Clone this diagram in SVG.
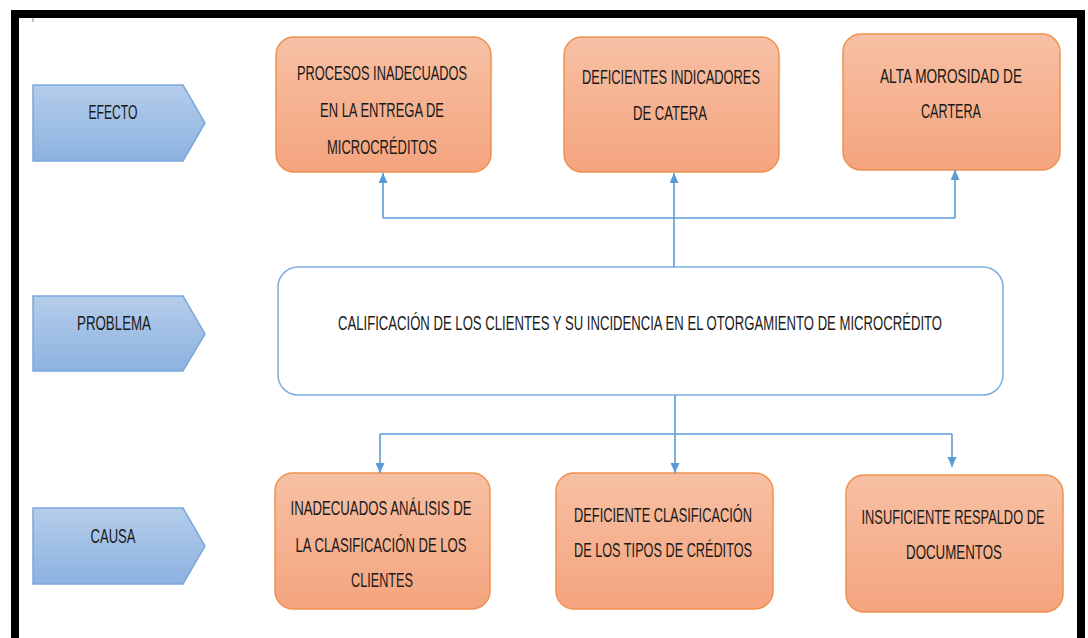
<svg xmlns="http://www.w3.org/2000/svg" width="1088" height="638" viewBox="0 0 1088 638">
<defs>
<linearGradient id="gb" x1="0" y1="0" x2="0" y2="1"><stop offset="0" stop-color="#b5cdea"/><stop offset="1" stop-color="#8cb2e0"/></linearGradient>
<linearGradient id="go" x1="0" y1="0" x2="0" y2="1"><stop offset="0" stop-color="#f7c0a4"/><stop offset="1" stop-color="#f4a47e"/></linearGradient>
<marker id="ah" markerUnits="userSpaceOnUse" markerWidth="10" markerHeight="14" refX="10" refY="4.5" orient="auto"><path d="M0,0 L10,4.5 L0,9 Z" fill="#5b9bd5"/></marker>
<style>
.lbl{fill:url(#gb);stroke:#7ba8dc;stroke-width:1.5}
.box{fill:url(#go);stroke:#f0914f;stroke-width:1.5}
.prob{fill:#fff;stroke:#7eaee0;stroke-width:1.5}
.t{font-family:"Liberation Sans",Arial,sans-serif;font-size:13px;fill:#1a1a1a;text-anchor:middle}
.c{fill:none;stroke:#5b9bd5;stroke-width:1.6}
</style>
</defs>
<rect width="1088" height="638" fill="#fff"/>
<path d="M15,700 V14 H1081 V700" fill="none" stroke="#000" stroke-width="8"/>
<line x1="33" y1="18" x2="33" y2="22" stroke="#888" stroke-width="1"/>

<g id="efecto"><path class="lbl" d="M33,85 H183 L205,123 L183,161 H33 Z"/><text class="t" transform="translate(113,119) scale(1,1.6)" textLength="49" lengthAdjust="spacingAndGlyphs">EFECTO</text></g>
<g id="problema"><path class="lbl" d="M33,296 H183 L205,334 L183,371 H33 Z"/><text class="t" transform="translate(114,330) scale(1,1.6)" textLength="74" lengthAdjust="spacingAndGlyphs">PROBLEMA</text></g>
<g id="causa"><path class="lbl" d="M33,508 H183 L205,546 L183,584 H33 Z"/><text class="t" transform="translate(113,543) scale(1,1.6)" textLength="45" lengthAdjust="spacingAndGlyphs">CAUSA</text></g>

<g id="efecto1"><rect class="box" x="276" y="37" width="215" height="135" rx="18"/>
<text class="t" transform="translate(382,80) scale(1,1.6)" textLength="170" lengthAdjust="spacingAndGlyphs">PROCESOS INADECUADOS</text>
<text class="t" transform="translate(382,117) scale(1,1.6)" textLength="124" lengthAdjust="spacingAndGlyphs">EN LA ENTREGA DE</text>
<text class="t" transform="translate(382,154) scale(1,1.6)" textLength="110" lengthAdjust="spacingAndGlyphs">MICROCRÉDITOS</text></g>
<g id="efecto2"><rect class="box" x="564" y="37" width="215" height="135" rx="18"/>
<text class="t" transform="translate(671,84) scale(1,1.6)" textLength="178" lengthAdjust="spacingAndGlyphs">DEFICIENTES INDICADORES</text>
<text class="t" transform="translate(670,120) scale(1,1.6)" textLength="74" lengthAdjust="spacingAndGlyphs">DE CATERA</text></g>
<g id="efecto3"><rect class="box" x="843" y="34" width="217" height="136" rx="18"/>
<text class="t" transform="translate(951,83) scale(1,1.6)" textLength="142" lengthAdjust="spacingAndGlyphs">ALTA MOROSIDAD DE</text>
<text class="t" transform="translate(951,118) scale(1,1.6)" textLength="60" lengthAdjust="spacingAndGlyphs">CARTERA</text></g>

<g id="problema-central"><rect class="prob" x="278" y="267" width="725" height="128" rx="20"/>
<text class="t" transform="translate(640,330) scale(1,1.6)" textLength="604" lengthAdjust="spacingAndGlyphs">CALIFICACIÓN DE LOS CLIENTES Y SU INCIDENCIA EN EL OTORGAMIENTO DE MICROCRÉDITO</text></g>

<g id="causa1"><rect class="box" x="275" y="473" width="215" height="136" rx="18"/>
<text class="t" transform="translate(381,515) scale(1,1.6)" textLength="181" lengthAdjust="spacingAndGlyphs">INADECUADOS ANÁLISIS DE</text>
<text class="t" transform="translate(381,552) scale(1,1.6)" textLength="171" lengthAdjust="spacingAndGlyphs">LA CLASIFICACIÓN DE LOS</text>
<text class="t" transform="translate(382,587) scale(1,1.6)" textLength="62" lengthAdjust="spacingAndGlyphs">CLIENTES</text></g>
<g id="causa2"><rect class="box" x="556" y="473" width="217" height="136" rx="18"/>
<text class="t" transform="translate(663,522) scale(1,1.6)" textLength="178" lengthAdjust="spacingAndGlyphs">DEFICIENTE CLASIFICACIÓN</text>
<text class="t" transform="translate(663,557) scale(1,1.6)" textLength="178" lengthAdjust="spacingAndGlyphs">DE LOS TIPOS DE CRÉDITOS</text></g>
<g id="causa3"><rect class="box" x="846" y="475" width="217" height="137" rx="18"/>
<text class="t" transform="translate(953,524) scale(1,1.6)" textLength="183" lengthAdjust="spacingAndGlyphs">INSUFICIENTE RESPALDO DE</text>
<text class="t" transform="translate(954,559) scale(1,1.6)" textLength="96" lengthAdjust="spacingAndGlyphs">DOCUMENTOS</text></g>

<g id="connectors">
<line class="c" x1="674" y1="267" x2="674" y2="173" marker-end="url(#ah)"/>
<line class="c" x1="383" y1="218" x2="955" y2="218"/>
<line class="c" x1="383" y1="218" x2="383" y2="173" marker-end="url(#ah)"/>
<line class="c" x1="955" y1="218" x2="955" y2="170" marker-end="url(#ah)"/>
<line class="c" x1="675" y1="395" x2="675" y2="473" marker-end="url(#ah)"/>
<line class="c" x1="380" y1="434" x2="952" y2="434"/>
<line class="c" x1="380" y1="434" x2="380" y2="473" marker-end="url(#ah)"/>
<line class="c" x1="952" y1="434" x2="952" y2="467" marker-end="url(#ah)"/>
</g>
</svg>
